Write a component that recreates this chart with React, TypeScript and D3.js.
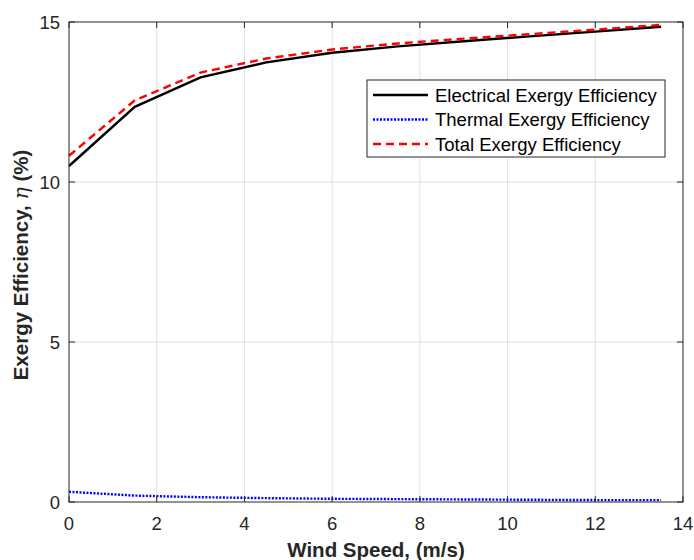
import * as d3 from 'd3';
import { useEffect, useRef } from 'react';

// wind speed (m/s)
const windSpeed = [0, 1.5, 3, 4.5, 6, 7.5, 9, 10.5, 12, 13.5];
// exergy efficiencies (%)
const electrical = [10.5, 12.35, 13.27, 13.74, 14.04, 14.24, 14.4, 14.55, 14.7, 14.85];
const thermal = [0.32, 0.2, 0.15, 0.12, 0.1, 0.09, 0.08, 0.07, 0.06, 0.06];
const total = [10.82, 12.55, 13.42, 13.86, 14.14, 14.33, 14.48, 14.62, 14.76, 14.91];
const xTicks = [0, 2, 4, 6, 8, 10, 12, 14];
const yTicks = [0, 5, 10, 15];

const seriesList = [
    { name: 'Electrical Exergy Efficiency', values: electrical, color: '#000000', dash: null, width: 2.4 },
    { name: 'Thermal Exergy Efficiency', values: thermal, color: '#0000ff', dash: '2,1.5', width: 2.4 },
    { name: 'Total Exergy Efficiency', values: total, color: '#ff0000', dash: '8,5', width: 2.4 },
];

const App = () => {
    const svgRef = useRef<SVGSVGElement>(null);

    useEffect(() => {
        const width = 694;
        const height = 560;
        const margin = { left: 69, right: 11, top: 22, bottom: 58 };
        const font = '"Liberation Sans", Arial, Helvetica, sans-serif';

        const svg = d3.select(svgRef.current);
        svg.selectAll('*').remove();
        svg.attr('width', width).attr('height', height);

        const x = d3.scaleLinear().domain([0, 14]).range([margin.left, width - margin.right]);
        const y = d3.scaleLinear().domain([0, 15]).range([height - margin.bottom, margin.top]);
        const [x0, x1] = x.range();
        const [y0, y1] = y.range();

        // grid
        const grid = svg.append('g').attr('stroke', '#dfdfdf').attr('stroke-width', 1);
        xTicks.slice(1, -1).forEach((t) => {
            grid.append('line').attr('x1', x(t)).attr('x2', x(t)).attr('y1', y0).attr('y2', y1);
        });
        yTicks.slice(1, -1).forEach((t) => {
            grid.append('line').attr('x1', x0).attr('x2', x1).attr('y1', y(t)).attr('y2', y(t));
        });

        // lines
        const line = d3
            .line<number>()
            .x((_, i) => x(windSpeed[i]))
            .y((d) => y(d));

        seriesList.forEach((s) => {
            svg.append('path')
                .datum(s.values)
                .attr('d', line)
                .attr('fill', 'none')
                .attr('stroke', s.color)
                .attr('stroke-width', s.width)
                .attr('stroke-dasharray', s.dash);
        });

        // box with inward ticks
        svg.append('rect')
            .attr('x', x0)
            .attr('y', y1)
            .attr('width', x1 - x0)
            .attr('height', y0 - y1)
            .attr('fill', 'none')
            .attr('stroke', '#262626')
            .attr('stroke-width', 1);

        const ticks = svg.append('g').attr('stroke', '#262626').attr('stroke-width', 1);
        xTicks.forEach((t) => {
            ticks.append('line').attr('x1', x(t)).attr('x2', x(t)).attr('y1', y0).attr('y2', y0 - 6);
            ticks.append('line').attr('x1', x(t)).attr('x2', x(t)).attr('y1', y1).attr('y2', y1 + 6);
        });
        yTicks.forEach((t) => {
            ticks.append('line').attr('x1', x0).attr('x2', x0 + 6).attr('y1', y(t)).attr('y2', y(t));
            ticks.append('line').attr('x1', x1).attr('x2', x1 - 6).attr('y1', y(t)).attr('y2', y(t));
        });

        // tick labels
        svg.append('g')
            .selectAll('text')
            .data(xTicks)
            .enter()
            .append('text')
            .attr('x', (d) => x(d))
            .attr('y', y0 + 28)
            .attr('text-anchor', 'middle')
            .style('font-family', font)
            .style('font-size', '18.5px')
            .style('fill', '#262626')
            .text((d) => d);

        svg.append('g')
            .selectAll('text')
            .data(yTicks)
            .enter()
            .append('text')
            .attr('x', x0 - 9)
            .attr('y', (d) => y(d) + 6.6)
            .attr('text-anchor', 'end')
            .style('font-family', font)
            .style('font-size', '18.5px')
            .style('fill', '#262626')
            .text((d) => d);

        // axis titles
        svg.append('text')
            .attr('x', 376)
            .attr('y', 557)
            .attr('text-anchor', 'middle')
            .style('font-family', font)
            .style('font-size', '20.5px')
            .style('font-weight', 'bold')
            .style('fill', '#262626')
            .text('Wind Speed, (m/s)');

        const yLabel = svg
            .append('text')
            .attr('transform', `translate(28, 265) rotate(-90)`)
            .attr('text-anchor', 'middle')
            .style('font-family', font)
            .style('font-size', '20.5px')
            .style('font-weight', 'bold')
            .style('fill', '#262626');
        yLabel.append('tspan').text('Exergy Efficiency, ');
        yLabel
            .append('tspan')
            .style('font-family', '"DejaVu Serif", "Liberation Serif", serif')
            .style('font-style', 'italic')
            .style('font-weight', 'normal')
            .text('η');
        yLabel.append('tspan').text(' (%)');

        // legend
        const lg = svg.append('g').attr('transform', 'translate(367, 80)');
        lg.append('rect')
            .attr('width', 298)
            .attr('height', 77)
            .attr('fill', '#ffffff')
            .attr('stroke', '#262626')
            .attr('stroke-width', 1);
        seriesList.forEach((s, i) => {
            const cy = 15 + i * 24.5;
            lg.append('line')
                .attr('x1', 6)
                .attr('x2', 61)
                .attr('y1', cy)
                .attr('y2', cy)
                .attr('stroke', s.color)
                .attr('stroke-width', s.width)
                .attr('stroke-dasharray', s.dash);
            lg.append('text')
                .attr('x', 68)
                .attr('y', cy + 6.7)
                .style('font-family', font)
                .style('font-size', '18.5px')
                .style('fill', '#000000')
                .text(s.name);
        });
    }, []);

    return <svg ref={svgRef} style={{ position: 'absolute', left: 0, top: 0 }} />;
};

export default App;
